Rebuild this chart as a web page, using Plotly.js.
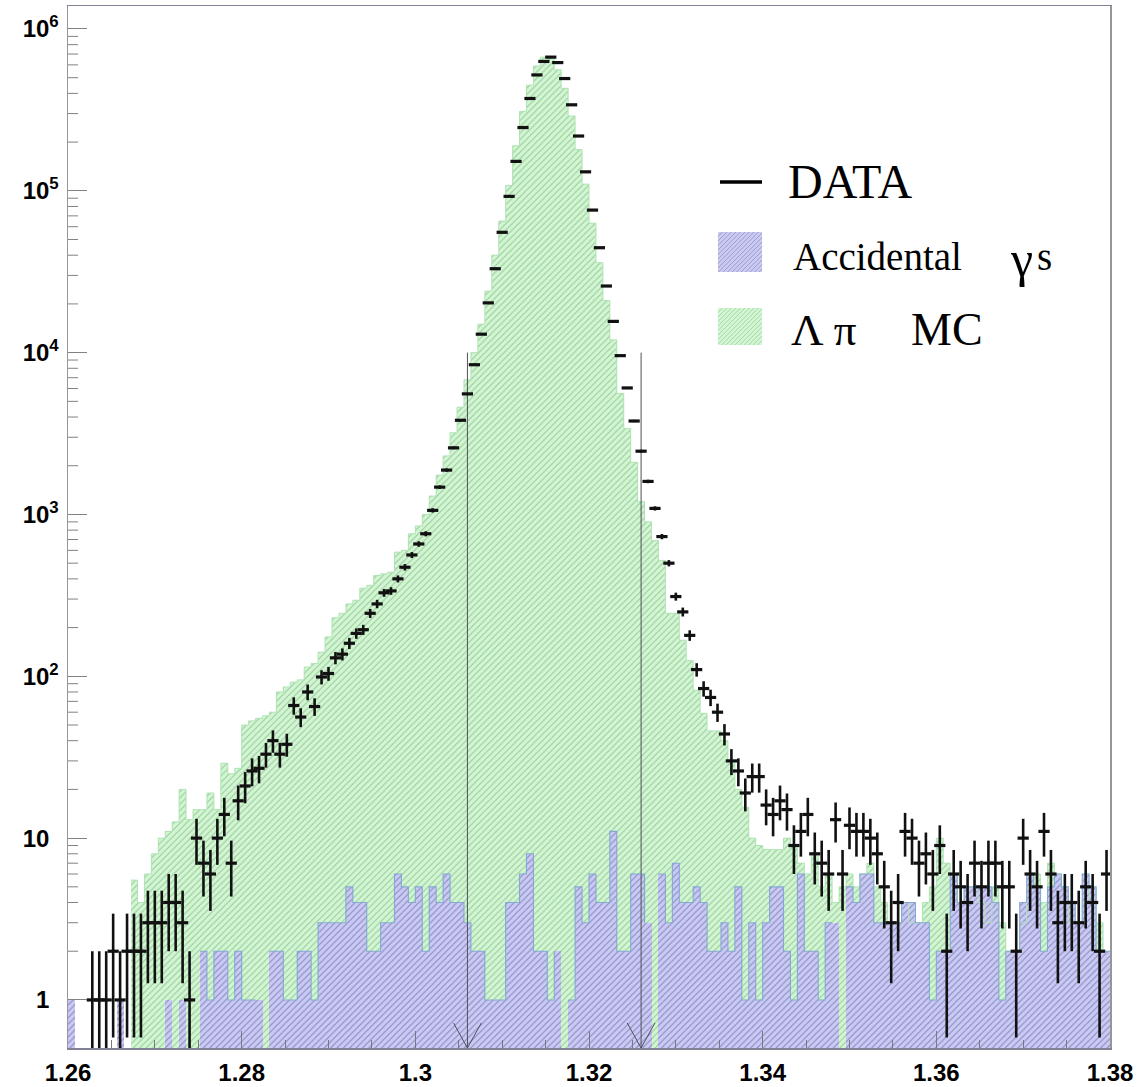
<!DOCTYPE html>
<html><head><meta charset="utf-8">
<script src="https://cdn.plot.ly/plotly-3.0.1.min.js"></script>
<style>html,body{margin:0;padding:0;background:#fff}</style>
</head><body>
<div id="chart" style="width:1138px;height:1087px"></div>
<script>
// ---- binning ----
const binLow = 1.26;
const binWidth = 0.0008;

// ---- DATA counts per bin (150 bins, 1.26 - 1.38) ----
const dataCounts = [
0,0,0,1,1,1,2,1,2,2,
2,3,3,3,4,4,3,1,10,7,
6,10,14,7,17,21,26,27,33,40,
33,38,66,56,80,65,99,104,130,137,
160,184,194,245,280,328,337,400,472,562,
657,760,1060,1475,1880,2580,3820,5560,8420,13000,
20300,33000,55400,92400,152000,246000,372000,520000,630000,670000,
620000,494000,340000,218000,131000,76000,44500,25800,15600,9580,
6050,3780,2460,1600,1090,730,500,311,250,179,
110,84,74,60,44,30,26,19,24,24,
16,14,17,15,9,11,14,8,7,6,
13,6,12,11,11,10,8,5,3,4,
11,10,7,8,6,9,2,6,5,4,
7,5,7,7,5,5,2,10,6,5,
11,6,3,4,4,3,5,4,2,6
];

// ---- Lambda pi MC (green histogram) ----
const mcCounts = [
0,0,0,0,0,0,0,0,0,5.5,
4,6,8,10,11,12.6,20,13,15,15,
19,15,29,25,27,50,53,55,57,60,
80,86,92,95,114,120,141,175,230,245,
280,295,350,365,420,430,440,585,600,760,
850,1000,1300,1750,2300,3200,4600,6800,10000,15000,
24000,40000,65000,108000,190000,310000,450000,590000,670000,670000,
560000,430000,290000,180000,110000,63000,36000,21000,12000,5600,
3400,2100,1200,900,690,520,245,245,167,125,
82,59,46,46,40,30,20,15.5,10,9,
8.5,8.5,8.5,10,9,7,6,8,5,6,
4,5,6,5,6,7,5,4,3,3,
4,3,3,4,5,10,7,6,4,5,
5,4,3,5,3,2,2,3,5,6,
4,7,6,5,3,3,4,5,3,2
];

// ---- Accidental gammas (blue histogram) ----
const accCounts = [
1,0,0,0,0,0,0,1,0,0,
0,0,0,0,1,0,1,0,0,2,
1,2,2,1,2,1,1,1,0,2,
2,1,1,2,2,1,3,3,3,3,
5,4,4,2,2,3,3,6,5,4,
5,2,5,4,6,4,4,3,2,2,
1,1,1,4,4,6,8,2,2,1,
2,0,1,5,3,6,4,4,11,2,
2,6,6,3,0,6,3,7,4,4,
5,4,2,2,3,2,5,1,3,1,
3,5,5,2,1,6,2,2,1,3,
3,0,5,4,6,6,3,3,3,3,
4,4,3,3,1,2,2,6,4,5,
5,5,5,4,1,2,2,4,6,5,
2,5,6,5,4,3,6,5,2,2
];

// ---- selection cuts (vertical lines with arrows) ----
const cutValues = [1.306, 1.326];
const cutTop = 1e4;

// ---- axis ticks ----
const xTickVals = [1.26, 1.28, 1.30, 1.32, 1.34, 1.36, 1.38];
const xTickText = ['1.26', '1.28', '1.3', '1.32', '1.34', '1.36', '1.38'];
const yTickVals = [1, 10, 100, 1000, 10000, 100000, 1000000];
const yTickText = ['1', '10', '10<sup>2</sup>', '10<sup>3</sup>', '10<sup>4</sup>', '10<sup>5</sup>', '10<sup>6</sup>'];

// ---- legend labels ----
const legendData = 'DATA';
const legendAcc = 'Accidental';
const legendMC = 'MC';

// ---------------------------------------------------------
const W = 1138, H = 1087;
const M = {l: 68, r: 28, t: 6, b: 39};
const PW = W - M.l - M.r, PH = H - M.t - M.b;
const fx = px => (px - M.l) / PW;
const fy = py => 1 - (py - M.t) / PH;

const yRangeLog = [-0.297, 6.142];
const xRange = [1.26, 1.38];

const greenBg = 'rgb(208,247,208)', greenFg = 'rgb(155,195,160)';
const blueBg = 'rgb(202,202,245)', blueFg = 'rgb(135,135,188)';

const centers = dataCounts.map((_, i) => binLow + (i + 0.5) * binWidth);
const edges = dataCounts.map((_, i) => binLow + i * binWidth).concat([binLow + dataCounts.length * binWidth]);

function stairs(arr) {
  const y = arr.map(v => v > 0 ? v : null);
  y.push(arr[arr.length - 1] > 0 ? arr[arr.length - 1] : null);
  return y;
}

const traces = [];
// green MC histogram
traces.push({
  type: 'bar', x: centers, y: mcCounts.map(v => v > 0 ? v : null), width: binWidth,
  marker: {color: greenBg, line: {width: 0},
    pattern: {shape: '/', bgcolor: greenBg, fgcolor: greenFg, size: 4.5, solidity: 0.22}},
  hoverinfo: 'skip', showlegend: false
});
traces.push({
  type: 'scatter', mode: 'lines', x: edges, y: stairs(mcCounts), line: {shape: 'hv', color: 'rgb(175,228,180)', width: 1},
  hoverinfo: 'skip', showlegend: false
});
// blue accidental histogram
traces.push({
  type: 'bar', x: centers, y: accCounts.map(v => v > 0 ? v : null), width: binWidth,
  marker: {color: blueBg, line: {width: 0},
    pattern: {shape: '/', bgcolor: blueBg, fgcolor: blueFg, size: 4.5, solidity: 0.24}},
  hoverinfo: 'skip', showlegend: false
});
traces.push({
  type: 'scatter', mode: 'lines', x: edges, y: stairs(accCounts), line: {shape: 'hv', color: 'rgb(130,170,210)', width: 1.1},
  hoverinfo: 'skip', showlegend: false
});
// cut lines + arrows
const yBottom = Math.pow(10, yRangeLog[0]);
const yArm = Math.pow(10, yRangeLog[0] + 0.155);
cutValues.forEach(c => {
  traces.push({type: 'scatter', mode: 'lines', x: [c, c], y: [cutTop, yBottom],
    line: {color: 'rgb(80,80,90)', width: 1}, hoverinfo: 'skip', showlegend: false, cliponaxis: false});
  traces.push({type: 'scatter', mode: 'lines', x: [c - 0.0016, c, c + 0.0016], y: [yArm, yBottom, yArm],
    line: {color: 'rgb(80,80,90)', width: 1}, hoverinfo: 'skip', showlegend: false});
});
// data points
const dIdx = dataCounts.map((v, i) => i).filter(i => dataCounts[i] > 0);
traces.push({
  type: 'scatter', mode: 'markers',
  x: dIdx.map(i => centers[i]), y: dIdx.map(i => dataCounts[i]),
  error_y: {type: 'data', array: dIdx.map(i => Math.sqrt(dataCounts[i])), visible: true, color: '#111', thickness: 2.6, width: 0},
  marker: {symbol: 'line-ew', size: 8, color: '#111', line: {width: 3.2, color: '#111'}},
  hoverinfo: 'skip', showlegend: false
});

// shapes: y minor ticks, legend swatches
const shapes = [];
for (let d = 0; d <= 6; d++) {
  for (let m = 2; m <= 9; m++) {
    const v = m * Math.pow(10, d);
    if (Math.log10(v) > yRangeLog[1]) continue;
    shapes.push({type: 'line', xref: 'paper', yref: 'y', x0: 0, x1: 10 / PW, y0: v, y1: v,
      line: {color: 'rgb(130,130,130)', width: 1}});
  }
}
function hatch(x0, y0, x1, y1, s) {
  let p = '';
  for (let c = x0 + y0; c <= x1 + y1; c += s) {
    const xa = Math.max(x0, c - y1), xb = Math.min(x1, c - y0);
    if (xb > xa) p += `M${fx(xa)},${fy(c - xa)}L${fx(xb)},${fy(c - xb)}`;
  }
  return p;
}
function swatch(x0, y0, x1, y1, bg, fg) {
  shapes.push({type: 'rect', xref: 'paper', yref: 'paper', x0: fx(x0), x1: fx(x1), y0: fy(y1), y1: fy(y0),
    fillcolor: bg, line: {width: 0}});
  shapes.push({type: 'path', xref: 'paper', yref: 'paper', path: hatch(x0, y0, x1, y1, 4.5),
    line: {color: fg, width: 0.7}});
}
swatch(718, 232, 762, 272, blueBg, blueFg);
swatch(718, 308, 762, 345, greenBg, greenFg);
shapes.push({type: 'line', xref: 'paper', yref: 'paper', x0: fx(720), x1: fx(762), y0: fy(182), y1: fy(182),
  line: {color: '#000', width: 3.5}});

const serif = 'Liberation Serif, Times New Roman, serif';
const ann = (text, px, py, size) => ({text, xref: 'paper', yref: 'paper', x: fx(px), y: fy(py),
  xanchor: 'left', yanchor: 'middle', showarrow: false, font: {family: serif, size, color: '#000'}});
const annotations = [
  ann(legendData, 786, 181, 48),
  ann(legendAcc, 791, 256, 39),
  ann('γ', 1008, 259, 50),
  ann('s', 1035, 256, 39),
  ann('Λ π', 789, 330, 45),
  ann(legendMC, 909, 330, 46)
];

const inv = '<span style="color:rgba(0,0,0,0)"><sup>0</sup></span>';
const yText = yTickText.map((t, i) => i < 2 ? t + inv : t);

const tickFont = {family: 'Liberation Sans, Arial, sans-serif', size: 24, color: '#000', weight: 'bold'};
const layout = {
  width: W, height: H,
  margin: M,
  paper_bgcolor: '#fff', plot_bgcolor: '#fff',
  barmode: 'overlay', bargap: 0,
  showlegend: false,
  xaxis: {
    range: xRange, tickmode: 'array', tickvals: xTickVals, ticktext: xTickText,
    ticks: 'inside', ticklen: 17, tickcolor: 'rgb(120,120,130)', tickwidth: 1,
    minor: {dtick: 0.005, tick0: 1.26, ticks: 'inside', ticklen: 8, tickcolor: 'rgb(120,120,130)', showgrid: false},
    showgrid: false, zeroline: false, showline: true, linecolor: 'rgb(130,130,150)', linewidth: 1.5, mirror: true,
    tickfont: tickFont, ticklabelstandoff: 3
  },
  yaxis: {
    type: 'log', range: yRangeLog, tickmode: 'array', tickvals: yTickVals, ticktext: yText,
    ticks: 'inside', ticklen: 19, tickcolor: 'rgb(130,130,130)', tickwidth: 1,
    showgrid: false, zeroline: false, showline: true, linecolor: 'rgb(150,150,150)', linewidth: 1.5, mirror: true,
    tickfont: tickFont, ticklabelstandoff: 3
  },
  shapes, annotations
};

Plotly.newPlot('chart', traces, layout, {displayModeBar: false, staticPlot: true});
</script>
</body></html>
